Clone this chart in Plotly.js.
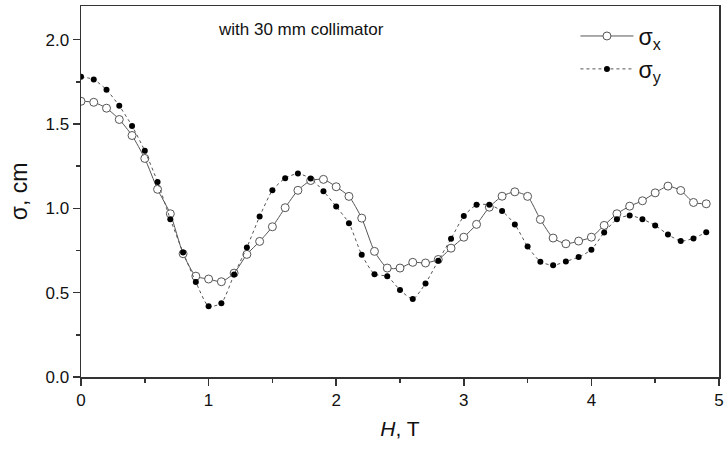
<!DOCTYPE html>
<html>
<head>
<meta charset="utf-8">
<script src="https://cdn.plot.ly/plotly-3.0.1.min.js"></script>
<style>html,body{margin:0;padding:0;background:#fff;}#chart{width:727px;height:450px;}</style>
</head>
<body>
<div id="chart"></div>
<script>
const H = [0,0.1,0.2,0.3,0.4,0.5,0.6,0.7,0.8,0.9,1.0,1.1,1.2,1.3,1.4,1.5,1.6,1.7,1.8,1.9,2.0,2.1,2.2,2.3,2.4,2.5,2.6,2.7,2.8,2.9,3.0,3.1,3.2,3.3,3.4,3.5,3.6,3.7,3.8,3.9,4.0,4.1,4.2,4.3,4.4,4.5,4.6,4.7,4.8,4.9];
const sigmaX = [1.635,1.629,1.594,1.527,1.432,1.296,1.113,0.968,0.731,0.598,0.581,0.565,0.616,0.727,0.804,0.891,1.004,1.107,1.165,1.172,1.128,1.071,0.942,0.745,0.646,0.646,0.680,0.676,0.697,0.764,0.829,0.905,1.007,1.072,1.098,1.071,0.934,0.824,0.790,0.806,0.829,0.899,0.968,1.013,1.045,1.092,1.132,1.106,1.035,1.027];
const sigmaY = [1.781,1.764,1.703,1.608,1.489,1.341,1.157,0.936,0.739,0.563,0.419,0.438,0.608,0.768,0.952,1.107,1.179,1.206,1.177,1.102,1.011,0.912,0.725,0.610,0.597,0.516,0.462,0.555,0.690,0.820,0.954,1.021,1.021,0.984,0.905,0.774,0.684,0.662,0.685,0.711,0.755,0.857,0.936,0.958,0.936,0.899,0.845,0.806,0.822,0.859];
const xTicks = [0,1,2,3,4,5];
const yTicks = [0,0.5,1.0,1.5,2.0];
const yTickText = ["0.0","0.5","1.0","1.5","2.0"];

const traces = [
  {x:H, y:sigmaX, name:'σ<sub>x</sub>', type:'scatter', mode:'lines+markers',
   line:{color:'#555', width:1, shape:'spline', smoothing:0.6},
   marker:{symbol:'circle', size:8, color:'#fff', line:{color:'#555', width:1}}},
  {x:H, y:sigmaY, name:'σ<sub>y</sub>', type:'scatter', mode:'lines+markers',
   line:{color:'#555', width:1, dash:'dot', shape:'spline', smoothing:0.6},
   marker:{symbol:'circle', size:6, color:'#000'}}
];

const FF = 'Liberation Sans, Arial, sans-serif';
const axisFont = {family:FF, size:17, color:'#111'};
const layout = {
  width:727, height:450,
  margin:{l:81, r:8, t:6, b:73},
  paper_bgcolor:'#fff', plot_bgcolor:'#fff',
  showlegend:true,
  legend:{x:0.775, y:0.977, xanchor:'left', yanchor:'top', bgcolor:'rgba(0,0,0,0)',
    font:{family:FF, size:23, color:'#111'}, itemwidth:53},
  xaxis:{range:[0,5], tickvals:xTicks, ticktext:xTicks.map(String), showgrid:false, zeroline:false,
    showline:true, mirror:true, linecolor:'#333', linewidth:1.5, ticks:'outside', ticklen:7, tickcolor:'#333', tickwidth:1.5,
    minor:{ticks:'outside', dtick:0.5, ticklen:4, tickcolor:'#333', tickwidth:1.5, showgrid:false},
    tickfont:axisFont,
    title:{text:'<i>H</i>, T', font:{family:FF, size:21, color:'#111'}, standoff:12}},
  yaxis:{range:[0,2.2], tickvals:yTicks, ticktext:yTickText, showgrid:false, zeroline:false,
    showline:true, mirror:true, linecolor:'#333', linewidth:1.5, ticks:'outside', ticklen:7, tickcolor:'#333', tickwidth:1.5,
    minor:{ticks:'outside', dtick:0.25, ticklen:4, tickcolor:'#333', tickwidth:1.5, showgrid:false},
    tickfont:axisFont,
    title:{text:'σ, cm', font:{family:FF, size:23, color:'#111'}, standoff:11}},
  annotations:[{text:'with 30 mm collimator', xref:'paper', yref:'paper', x:0.2116, y:0.938, xanchor:'left', yanchor:'middle',
    showarrow:false, font:{family:FF, size:17, color:'#111'}}]
};
Plotly.newPlot('chart', traces, layout, {displayModeBar:false, staticPlot:true});
</script>
</body>
</html>
